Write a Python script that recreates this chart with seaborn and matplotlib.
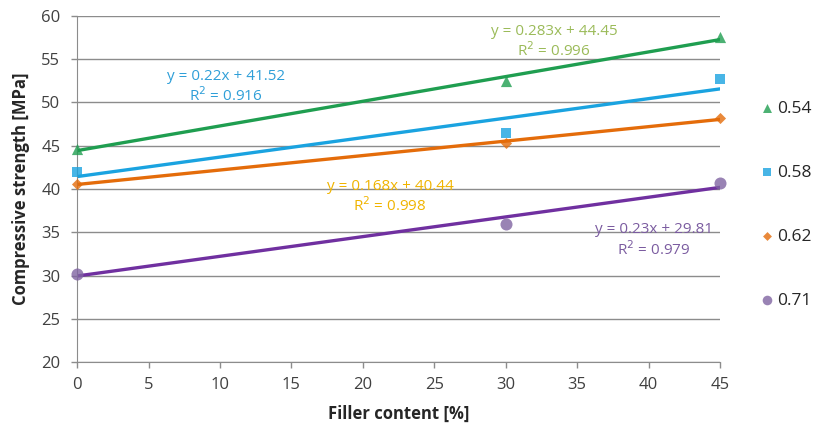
import numpy as np
import pandas as pd
import matplotlib
import matplotlib.pyplot as plt
import seaborn as sns

matplotlib.use('Agg')

# data
filler = [0, 30, 45]
wc_labels = ['0.54', '0.58', '0.62', '0.71']
s054 = [44.6, 52.5, 57.6]
s058 = [42.0, 46.5, 52.7]
s062 = [40.6, 45.3, 48.2]
s071 = [30.2, 36.0, 40.7]
eq_texts = ['y = 0.283x + 44.45\nR$^2$ = 0.996',
            'y = 0.22x + 41.52\nR$^2$ = 0.916',
            'y = 0.168x + 40.44\nR$^2$ = 0.998',
            'y = 0.23x + 29.81\nR$^2$ = 0.979']

df = pd.DataFrame({
    'filler': filler * 4,
    'strength': s054 + s058 + s062 + s071,
    'wc': np.repeat(wc_labels, len(filler)),
})

sns.set_style('white')
plt.rcParams['font.family'] = ['Open Sans', 'DejaVu Sans']

styles = {
    '0.54': dict(marker='^', mcol='#1f9e50', lcol='#1f9e50', tcol='#9bbb59', pos=(33.4, 59.1)),
    '0.58': dict(marker='s', mcol='#1aa3e0', lcol='#1aa3e0', tcol='#2f9fd8', pos=(10.4, 53.9)),
    '0.62': dict(marker='D', mcol='#e46c0a', lcol='#e46c0a', tcol='#f0b400', pos=(21.9, 41.2)),
    '0.71': dict(marker='o', mcol='#8064a2', lcol='#7030a0', tcol='#7b5ca0', pos=(40.4, 36.2)),
}
msize = {'^': 65, 's': 50, 'D': 32, 'o': 75}

fig = plt.figure(figsize=(8.2, 4.32), dpi=100)
ax = fig.add_axes([0.094, 0.162, 0.784, 0.801])

for lab, eq in zip(wc_labels, eq_texts):
    st = styles[lab]
    sub = df[df['wc'] == lab]
    sns.regplot(data=sub, x='filler', y='strength', ax=ax, ci=None, truncate=True,
                marker=st['marker'], label=lab,
                scatter_kws=dict(color=st['mcol'], s=msize[st['marker']], linewidths=0,
                                 zorder=3, clip_on=False),
                line_kws=dict(color=st['lcol'], lw=2.4, zorder=2))
    ax.text(st['pos'][0], st['pos'][1], eq, color=st['tcol'], fontsize=11,
            ha='center', va='top', linespacing=1.2)

ax.set_xlim(0, 45)
ax.set_ylim(20, 60)
ax.set_xticks(range(0, 50, 5))
ax.set_yticks(range(20, 65, 5))
ax.yaxis.grid(True, color='#8c8c8c', lw=1)
ax.xaxis.grid(False)
ax.set_axisbelow(True)
for side in ['top', 'right']:
    ax.spines[side].set_visible(False)
for side in ['left', 'bottom']:
    ax.spines[side].set_color('#8c8c8c')
ax.tick_params(axis='both', labelsize=12, colors='#404040', length=4, width=1)
ax.tick_params(axis='x', bottom=True, direction='out', pad=7, color='#8c8c8c')
ax.tick_params(axis='y', left=True, direction='out', pad=8, color='#8c8c8c')
ax.set_xlabel('Filler content [%]', fontsize=12, fontweight='bold', labelpad=8)
ax.set_ylabel('Compressive strength [MPa]', fontsize=12, fontweight='bold', labelpad=8)

handles, labels = ax.get_legend_handles_labels()
ax.legend(handles, labels, loc='upper left', bbox_to_anchor=(1.035, 0.80), frameon=False,
          fontsize=12.5, labelspacing=2.75, handletextpad=0.1, handlelength=1.0,
          markerscale=0.8)

fig.savefig('out.png', dpi=100)
